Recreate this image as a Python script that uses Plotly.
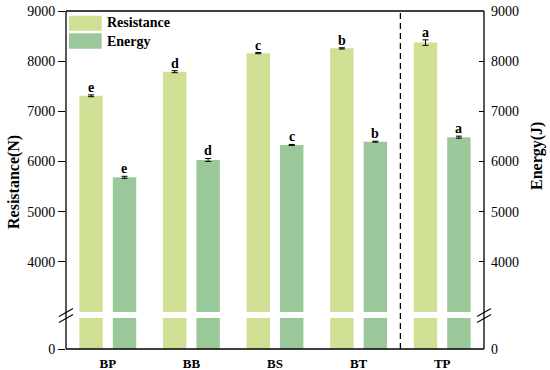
import plotly.graph_objects as go

categories = ["BP", "BB", "BS", "BT", "TP"]
resistance = [7310, 7790, 8160, 8255, 8370]
resistance_err = [18, 20, 12, 12, 55]
energy = [5685, 6030, 6330, 6395, 6485]
energy_err = [20, 30, 10, 10, 20]
res_letters = ["e", "d", "c", "b", "a"]
en_letters = ["e", "d", "c", "b", "a"]
upper_ticks = [4000, 5000, 6000, 7000, 8000, 9000]
lower_ticks = [0]

RES_COLOR = "#cfdf94"
EN_COLOR = "#9ac89b"
FONT = "Liberation Serif"

# plot area in pixels
L, R, T, B = 66, 484, 11, 349
W, H = R - L, B - T


def px(x):
    return (x - L) / W


def py(y):
    return (B - y) / H


fig = go.Figure()

# upper segment
fig.add_trace(go.Bar(x=categories, y=resistance, name="Resistance", marker_color=RES_COLOR,
                     marker_line_width=0, xaxis="x", yaxis="y",
                     error_y=dict(type="data", array=resistance_err, color="black", thickness=1, width=3)))
fig.add_trace(go.Bar(x=categories, y=energy, name="Energy", marker_color=EN_COLOR,
                     marker_line_width=0, xaxis="x", yaxis="y",
                     error_y=dict(type="data", array=energy_err, color="black", thickness=1, width=3)))
# lower segment
fig.add_trace(go.Bar(x=categories, y=resistance, name="Resistance", marker_color=RES_COLOR,
                     marker_line_width=0, xaxis="x2", yaxis="y2", showlegend=False))
fig.add_trace(go.Bar(x=categories, y=energy, name="Energy", marker_color=EN_COLOR,
                     marker_line_width=0, xaxis="x2", yaxis="y2", showlegend=False))
# invisible traces so the right-hand (Energy) axes are drawn
fig.add_trace(go.Scatter(x=categories, y=energy, xaxis="x", yaxis="y3", mode="markers",
                         marker=dict(opacity=0), hoverinfo="skip", showlegend=False))
fig.add_trace(go.Scatter(x=categories, y=energy, xaxis="x2", yaxis="y4", mode="markers",
                         marker=dict(opacity=0), hoverinfo="skip", showlegend=False))

tickfont = dict(family=FONT, size=14, color="black")
upper_dom = [py(312), 1]
lower_dom = [0, py(318)]

fig.update_layout(
    width=550, height=370, template="none",
    paper_bgcolor="white", plot_bgcolor="white",
    font=dict(family=FONT, color="black"),
    margin=dict(l=L, r=550 - R, t=T, b=370 - B),
    barmode="group", bargap=0.2, bargroupgap=0.3,
    showlegend=False,
    xaxis=dict(domain=[0, 1], anchor="y", type="category", categoryarray=categories,
               showticklabels=False, showline=False, ticks="", showgrid=False, zeroline=False,
               automargin=False),
    xaxis2=dict(domain=[0, 1], anchor="y2", type="category", categoryarray=categories,
                matches="x", showline=False, ticks="", showgrid=False, zeroline=False,
                ticklabelstandoff=5,
                tickfont=dict(family=FONT, size=13, color="black", weight="bold"),
                automargin=False),
    yaxis=dict(domain=upper_dom, anchor="x", range=[3000, 9000], tickvals=upper_ticks,
               ticks="outside", ticklen=7, tickwidth=1.2, tickcolor="black",
               showline=False, showgrid=False, zeroline=False, tickfont=tickfont,
               automargin=False),
    yaxis2=dict(domain=lower_dom, anchor="x2", range=[0, 1000], tickvals=lower_ticks,
                ticks="outside", ticklen=7, tickwidth=1.2, tickcolor="black",
                showline=False, showgrid=False, zeroline=False, tickfont=tickfont,
                automargin=False),
    yaxis3=dict(domain=upper_dom, anchor="x", overlaying="y", side="right", range=[3000, 9000],
                tickvals=upper_ticks, ticks="inside", ticklen=5, tickwidth=1.2, tickcolor="black",
                ticklabelstandoff=6,
                showline=False, showgrid=False, zeroline=False, tickfont=tickfont, automargin=False),
    yaxis4=dict(domain=lower_dom, anchor="x2", overlaying="y2", side="right", range=[0, 1000],
                tickvals=lower_ticks, ticks="", ticklabelstandoff=6,
                showline=False, showgrid=False, zeroline=False, tickfont=tickfont, automargin=False),
)

shapes = []
line = dict(color="black", width=1.3)
# frame
shapes.append(dict(type="line", xref="paper", yref="paper", x0=0, x1=0, y0=0, y1=1, line=line))
shapes.append(dict(type="line", xref="paper", yref="paper", x0=1, x1=1, y0=0, y1=1, line=line))
shapes.append(dict(type="line", xref="paper", yref="paper", x0=0, x1=1, y0=1, y1=1, line=line))
shapes.append(dict(type="line", xref="paper", yref="paper", x0=0, x1=1, y0=0, y1=0, line=line))
# break marks
for xc in (L, R):
    for yc in (312.5, 318.5):
        shapes.append(dict(type="line", xref="paper", yref="paper",
                           x0=px(xc - 7), x1=px(xc + 7), y0=py(yc + 4), y1=py(yc - 4),
                           line=dict(color="black", width=1.1)))
# dashed separator between BT and TP
shapes.append(dict(type="line", xref="paper", yref="paper", x0=0.8, x1=0.8, y0=0, y1=1,
                   line=dict(color="black", width=1.3, dash="6px,4px")))
# legend swatches
shapes.append(dict(type="rect", xref="paper", yref="paper", x0=px(69), x1=px(101.7),
                   y0=py(30.7), y1=py(15.7), fillcolor=RES_COLOR, line_width=0))
shapes.append(dict(type="rect", xref="paper", yref="paper", x0=px(69), x1=px(101.7),
                   y0=py(48.7), y1=py(33.3), fillcolor=EN_COLOR, line_width=0))
fig.update_layout(shapes=shapes)

ann = []
lf = dict(family=FONT, size=14, color="black", weight="bold")
for c, v, e, t in zip(categories, resistance, resistance_err, res_letters):
    ann.append(dict(x=c, y=v + e, xref="x", yref="y", text=t, showarrow=False, xshift=-16.6,
                    yanchor="bottom", yshift=-2, font=lf))
for c, v, e, t in zip(categories, energy, energy_err, en_letters):
    ann.append(dict(x=c, y=v + e, xref="x", yref="y", text=t, showarrow=False, xshift=16.6,
                    yanchor="bottom", yshift=-2, font=lf))
legf = dict(family=FONT, size=14, color="black", weight="bold")
ann.append(dict(x=px(105), y=py(23), xref="paper", yref="paper", text="Resistance", showarrow=False,
                xanchor="left", yanchor="middle", font=legf))
ann.append(dict(x=px(105), y=py(41), xref="paper", yref="paper", text="Energy", showarrow=False,
                xanchor="left", yanchor="middle", font=legf))
titf = dict(family=FONT, size=16, color="black", weight="bold")
ann.append(dict(x=px(14), y=py(182), xref="paper", yref="paper", text="Resistance(N)", showarrow=False,
                textangle=-90, xanchor="center", yanchor="middle", font=titf))
ann.append(dict(x=px(537), y=py(156), xref="paper", yref="paper", text="Energy(J)", showarrow=False,
                textangle=-90, xanchor="center", yanchor="middle", font=titf))
fig.update_layout(annotations=ann)

fig.write_html("out.html", config={"displayModeBar": False},
               post_script="document.body.style.margin='0';document.body.style.padding='0';")
